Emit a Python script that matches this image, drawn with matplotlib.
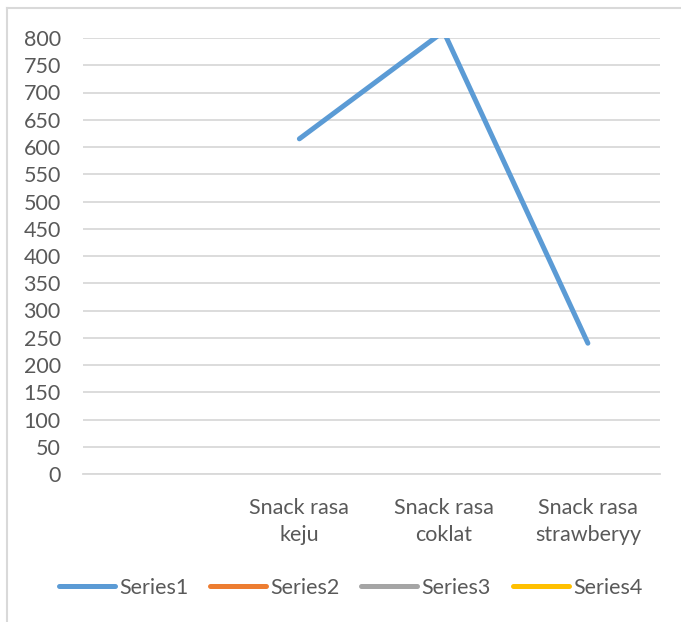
#Line chart - snack sales

#import libraries
import numpy as np
import matplotlib.pyplot as plt
from matplotlib.lines import Line2D

#data
categories = ['', 'Snack rasa\nkeju', 'Snack rasa\ncoklat', 'Snack rasa\nstrawberyy']
series1 = [np.nan, 615, 812, 240]
series_names = ['Series1', 'Series2', 'Series3', 'Series4']
series_colors = ['#5B9BD5', '#ED7D31', '#A5A5A5', '#FFC000']
y_ticks = list(range(0, 801, 50))

plt.rcParams['font.family'] = ['Lato', 'DejaVu Sans']
text_color = '#595959'
grid_color = '#D9D9D9'
fs = 15.5

fig = plt.figure(figsize=(6.81, 6.22), dpi=100)
ax = fig.add_axes([83/681, 1 - 474/622, (660 - 83)/681, (474 - 38)/622])

x = np.arange(len(categories))
#plot series1, clipped at the top of the axis like the original
ax.plot(x, series1, color=series_colors[0], linewidth=3.6, solid_capstyle='round', zorder=3)

#axes styling
ax.set_xlim(-0.5, len(categories) - 0.5)
ax.set_ylim(0, 800)
ax.set_yticks(y_ticks)
ax.set_xticks(x)
ax.set_xticklabels(categories, linespacing=1.45)
ax.tick_params(axis='both', length=0, labelsize=fs, colors=text_color)
ax.tick_params(axis='y', pad=16)
ax.tick_params(axis='x', pad=17)
ax.grid(axis='y', color=grid_color, linewidth=1.3)
ax.set_axisbelow(True)
for side in ['top', 'right', 'left']:
    ax.spines[side].set_visible(False)
ax.spines['bottom'].set_color(grid_color)
ax.spines['bottom'].set_linewidth(1.3)

#legend
handles = [Line2D([0], [0], color=c, linewidth=3.6, solid_capstyle='round') for c in series_colors]
fig.legend(handles, series_names, loc='center', bbox_to_anchor=(0.515, 0.055), ncol=4,
           frameon=False, fontsize=fs, labelcolor=text_color, handlelength=2.6,
           handletextpad=0.2, columnspacing=1.0)

#chart border (partly visible in the original)
fig.add_artist(Line2D([7/681, 7/681], [0, 1 - 8/622], color=grid_color, linewidth=1.5, transform=fig.transFigure))
fig.add_artist(Line2D([7/681, 1], [1 - 8/622, 1 - 8/622], color=grid_color, linewidth=1.5, transform=fig.transFigure))

plt.savefig('out.png', dpi=100, facecolor='white')
